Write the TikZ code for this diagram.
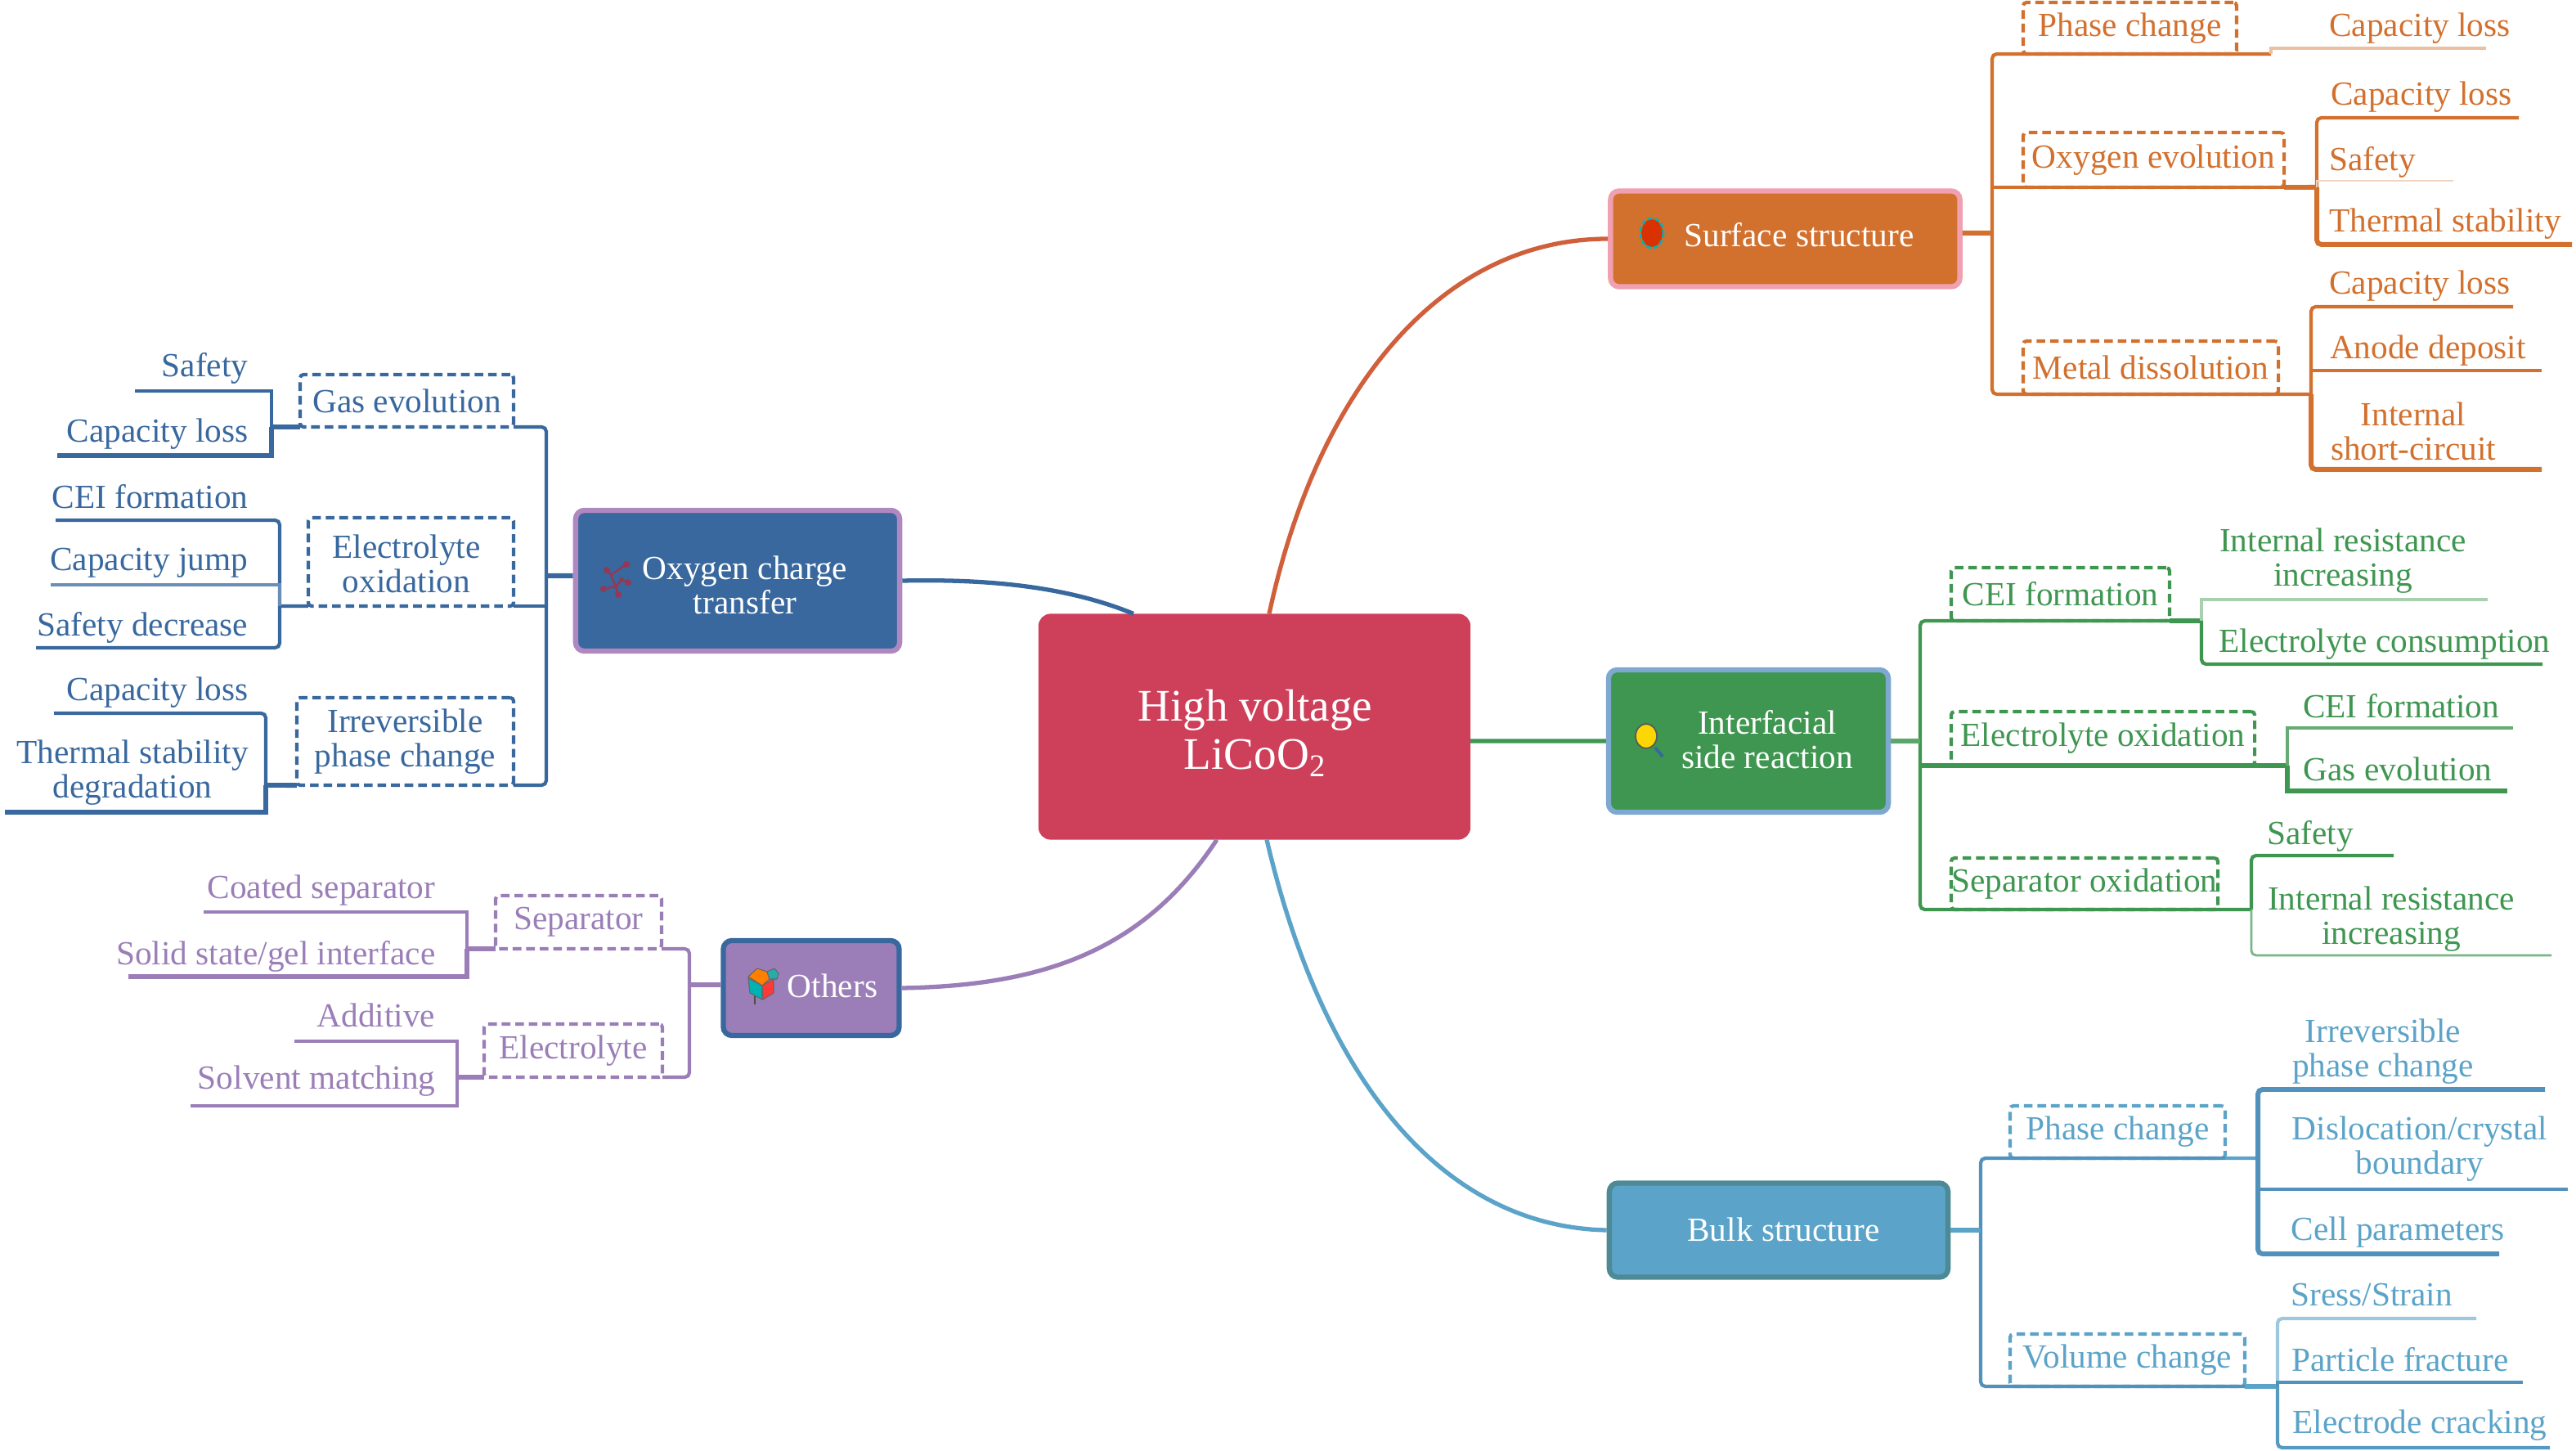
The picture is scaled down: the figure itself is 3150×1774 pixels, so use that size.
\documentclass[tikz,border=0pt]{standalone}
\usepackage{fontspec}
\setmainfont{Liberation Serif}
\definecolor{ca}{HTML}{D2702E}
\definecolor{cb}{HTML}{38689E}
\definecolor{cc}{HTML}{9B7EB8}
\definecolor{cd}{HTML}{3E9650}
\definecolor{ce}{HTML}{5BA3C8}
\definecolor{rootc}{HTML}{CE3F5A}
\definecolor{surfb}{HTML}{F0A0B0}
\definecolor{interb}{HTML}{7FA8D0}
\definecolor{bulkb}{HTML}{4D8A96}
\definecolor{oxyb}{HTML}{B088C0}
\definecolor{cr}{HTML}{D0603C}
\tikzset{
  txt/.style={font=\fontsize{11.75}{12}\selectfont,inner sep=0pt,align=center},
  leaf/.style={txt,text=#1},
  dbox/.style={txt,text=#1,draw=#1,outer sep=0pt,dash pattern=on 3pt off 1.7pt,line width=1.2pt,rounded corners=1.2pt},
  main/.style={draw=#1,line width=1.8pt,rounded corners=3pt,inner sep=0pt},
  wt/.style={txt,text=white},
  hw/.style={line width=1.7pt},
  md/.style={line width=1.2pt},
  tn/.style={line width=.8pt},
  rc/.style={rounded corners=1.6pt},
  conn/.style={line width=1.5pt},
}
\newcommand{\bx}[7]{\node[dbox=#1,minimum width=#5cm,minimum height=#6cm] (#2) at (#3,#4) {#7};}
\begin{document}
\begin{tikzpicture}[x=0.01cm,y=-0.01cm]
\useasboundingbox (0,0) rectangle (3150,1774);
% main boxes
\node[main=rootc,line width=.6pt,fill=rootc,minimum width=5.26cm,minimum height=2.74cm,rounded corners=4pt] (root) at (1534,888.5) {};
\node[wt,font=\fontsize{15.7}{17}\selectfont] (rootT) at (1535,896) {High voltage\\LiCoO\textsubscript{2}};
\node[main=surfb,fill=ca,minimum width=4.27cm,minimum height=1.17cm] (surf) at (2183,292) {};
\node[wt] (surfT) at (2200,287) {Surface structure};
\node[main=interb,fill=cd,minimum width=3.42cm,minimum height=1.74cm] (inter) at (2138,906) {};
\node[wt] (interT) at (2161,904) {Interfacial\\side reaction};
\node[main=bulkb,fill=ce,minimum width=4.14cm,minimum height=1.15cm] (bulk) at (2175,1504) {};
\node[wt] (bulkT) at (2181,1503) {Bulk structure};
\node[main=oxyb,fill=cb,minimum width=3.96cm,minimum height=1.72cm] (oxy) at (902,710) {};
\node[wt] (oxyT) at (911,715) {Oxygen charge\\transfer};
\node[main=cb,fill=cc,minimum width=2.15cm,minimum height=1.16cm] (oth) at (992,1208) {};
\node[wt] (othT) at (1018,1205) {Others};
% root connectors
\draw[conn,cr] ([xshift=0.18cm]root.north) .. controls (1610,480) and (1760,292) .. (surf.west);
\draw[conn,cd] ([yshift=-0.175cm]root.east) -- (inter.west);
\draw[conn,ce] ([xshift=0.15cm]root.south) .. controls (1620,1330) and (1770,1500) .. (bulk.west);
\draw[conn,cb] ([xshift=-1.48cm]root.north) .. controls (1300,715) and (1200,708) .. (oxy.east);
\draw[conn,cc] ([xshift=-0.46cm]root.south) .. controls (1400,1160) and (1280,1205) .. (oth.east);
% ---- Surface
\bx{ca}{spc}{2604.5}{34.5}{2.61}{.63}{Phase change}
\bx{ca}{soe}{2633.5}{195.5}{3.19}{.67}{Oxygen evolution}
\bx{ca}{smd}{2630}{449.5}{3.12}{.65}{Metal dissolution}
\coordinate (sV) at (2436,285);
\draw[md,ca,rc] (spc.south east) -| (sV) |- (smd.south east);
\draw[hw,ca] ([yshift=.07cm]surf.east) -- (sV);
\draw[md,ca] (sV |- soe.south) -- (soe.south east);
\coordinate (spcJ) at (2777,66); \coordinate (spcA) at (3040,59);
\draw[md,ca] (spc.south east) -- (spcJ);
\draw[md,ca!45] (spcJ) |- (spcA);
\node[leaf=ca] (l1) at (2959,35) {Capacity loss};
\coordinate (soeJ) at (2833,229); \coordinate (soeA) at (3080,144); \coordinate (soeB) at (3000,221); \coordinate (soeC) at (3145,299);
\draw[hw,ca] (soe.south east) -- (soeJ);
\draw[md,ca,rc] (soeJ) |- (soeA);
\draw[tn,ca!30] (soeJ) |- (soeB);
\draw[hw,ca,rc] (soeJ) |- (soeC);
\node[leaf=ca] (l2) at (2961,119) {Capacity loss};
\node[leaf=ca] (l3) at (2901,198) {Safety};
\node[leaf=ca] (l4) at (2990,274) {Thermal stability};
\coordinate (smdJ) at (2826,482); \coordinate (smdA) at (3073,375); \coordinate (smdB) at (3108,453); \coordinate (smdC) at (3108,574);
\draw[md,ca] (smd.south east) -- (smdJ);
\draw[md,ca,rc] (smdJ) |- (smdA);
\draw[md,ca] (smdJ) |- (smdB);
\draw[hw,ca,rc] (smdJ) |- (smdC);
\node[leaf=ca] (l5) at (2959,350) {Capacity loss};
\node[leaf=ca] (l6) at (2969,429) {Anode deposit};
\node[leaf=ca] (l7) at (2951,527) {Internal\\short-circuit};
% ---- Interfacial
\bx{cd}{icf}{2519.5}{726.5}{2.67}{.65}{CEI formation}
\bx{cd}{ieo}{2571.5}{903}{3.71}{.66}{Electrolyte oxidation}
\bx{cd}{iso}{2549}{1080.5}{3.26}{.63}{Separator oxidation}
\coordinate (iV) at (2348,906);
\draw[md,cd,rc] (icf.south east) -| (iV) |- (iso.south east);
\draw[hw,cd!85] (inter.east) -- (iV);
\draw[hw,cd] (iV |- ieo.south) -- (ieo.south east);
\coordinate (icfJ) at (2692,759); \coordinate (icfA) at (3042,733); \coordinate (icfB) at (3109,812);
\draw[hw,cd] (icf.south east) -- (icfJ);
\draw[md,cd!45] (icfJ) |- (icfA);
\draw[md,cd,rc] (icfJ) |- (icfB);
\node[leaf=cd] (l8) at (2865,686) {Internal resistance\\increasing};
\node[leaf=cd] (l9) at (2916,788) {Electrolyte consumption};
\coordinate (ieoJ) at (2797,936); \coordinate (ieoA) at (3073,890); \coordinate (ieoB) at (3066,967);
\draw[hw,cd] (ieo.south east) -- (ieoJ);
\draw[md,cd!80] (ieoJ) |- (ieoA);
\draw[hw,cd] (ieoJ) |- (ieoB);
\node[leaf=cd] (l10) at (2936,863) {CEI formation};
\node[leaf=cd] (l11) at (2932,940) {Gas evolution};
\coordinate (isoJ) at (2753,1112); \coordinate (isoA) at (2927,1046); \coordinate (isoB) at (3120,1168);
\draw[md,cd] (iso.south east) -- (isoJ);
\draw[md,cd,rc] (isoJ) |- (isoA);
\draw[tn,cd!70,rc] (isoJ) |- (isoB);
\node[leaf=cd] (l12) at (2825,1022) {Safety};
\node[leaf=cd] (l13) at (2924,1124) {Internal resistance\\increasing};
% ---- Bulk
\bx{ce}{bpc}{2589.5}{1384}{2.63}{.64}{Phase change}
\bx{ce}{bvc}{2601.5}{1663}{2.87}{.64}{Volume change}
\coordinate (bV) at (2422,1504);
\draw[md,ce!70!cb,rc] (bpc.south east) -| (bV) |- (bvc.south east);
\draw[hw,ce] (bulk.east) -- (bV);
\coordinate (bpcJ) at (2761,1416); \coordinate (bpcA) at (3112,1332); \coordinate (bpcB) at (3140,1454); \coordinate (bpcC) at (3056,1533);
\draw[md,ce] (bpc.south east) -- (bpcJ);
\draw[hw,ce!70!cb,rc] (bpcJ) |- (bpcA);
\draw[md,ce!70!cb] (bpcJ) |- (bpcB);
\draw[hw,ce!70!cb,rc] (bpcJ) |- (bpcC);
\node[leaf=ce] (l14) at (2914,1286) {Irreversible\\phase change};
\node[leaf=ce] (l15) at (2959,1405) {Dislocation/crystal\\boundary};
\node[leaf=ce] (l16) at (2932,1507) {Cell parameters};
\coordinate (bvcJ) at (2785,1695); \coordinate (bvcA) at (3028,1612); \coordinate (bvcB) at (3085,1690); \coordinate (bvcC) at (3118,1770);
\draw[hw,ce] (bvc.south east) -- (bvcJ);
\draw[md,ce!60,rc] (bvcJ) |- (bvcA);
\draw[md,ce!70!cb] (bvcJ) |- (bvcB);
\draw[md,ce!85!cb,rc] (bvcJ) |- (bvcC);
\node[leaf=ce] (l17) at (2900,1583) {Sress/Strain};
\node[leaf=ce] (l18) at (2935,1662) {Particle fracture};
\node[leaf=ce] (l19) at (2959,1743) {Electrode cracking};
% ---- Oxygen charge transfer
\bx{cb}{oge}{497.5}{490}{2.61}{.64}{Gas evolution}
\bx{cb}{oeo}{502.5}{687}{2.51}{1.08}{}
\node[leaf=cb] (oeoT) at (497,689) {Electrolyte\\oxidation};
\bx{cb}{oip}{495.5}{906.5}{2.65}{1.07}{Irreversible\\phase change}
\coordinate (oV) at (668,704);
\draw[md,cb,rc] (oge.south east) -| (oV) |- (oip.south east);
\draw[hw,cb] ([yshift=.06cm]oxy.west) -- (oV);
\draw[md,cb] (oV |- oeo.south) -- (oeo.south east);
\coordinate (ogeJ) at (332,522); \coordinate (ogeA) at (165,478); \coordinate (ogeB) at (70,557);
\draw[hw,cb] (oge.south west) -- (ogeJ);
\draw[md,cb] (ogeJ) |- (ogeA);
\draw[hw,cb] (ogeJ) |- (ogeB);
\node[leaf=cb,anchor=east] (l20) at (304,450) {Safety};
\node[leaf=cb,anchor=east] (l21) at (304,531) {Capacity loss};
\coordinate (oeoJ) at (342,741); \coordinate (oeoA) at (68,636); \coordinate (oeoB) at (62,715); \coordinate (oeoC) at (44,792);
\draw[md,cb] (oeo.south west) -- (oeoJ);
\draw[md,cb,rc] (oeoJ) |- (oeoA);
\draw[md,cb!75] (oeoJ) |- (oeoB);
\draw[md,cb,rc] (oeoJ) |- (oeoC);
\node[leaf=cb,anchor=east] (l22) at (304,607) {CEI formation};
\node[leaf=cb,anchor=east] (l23) at (304,688) {Capacity jump};
\node[leaf=cb,anchor=east] (l24) at (304,767) {Safety decrease};
\coordinate (oipJ) at (325,960); \coordinate (oipA) at (66,872); \coordinate (oipB) at (6,993);
\draw[hw,cb] (oip.south west) -- (oipJ);
\draw[md,cb,rc] (oipJ) |- (oipA);
\draw[hw,cb] (oipJ) |- (oipB);
\node[leaf=cb,anchor=east] (l25) at (304,847) {Capacity loss};
\node[leaf=cb] (l26) at (162,945) {Thermal stability\\degradation};
% ---- Others
\bx{cc}{tse}{707.5}{1127.5}{2.03}{.65}{Separator}
\bx{cc}{tel}{701}{1284.5}{2.18}{.65}{Electrolyte}
\coordinate (tV) at (843,1204);
\draw[md,cc,rc] (tse.south east) -| (tV) |- (tel.south east);
\draw[hw,cc] ([yshift=.04cm]oth.west) -- (tV);
\coordinate (tseJ) at (571,1160); \coordinate (tseA) at (249,1115); \coordinate (tseB) at (157,1194);
\draw[hw,cc] (tse.south west) -- (tseJ);
\draw[md,cc] (tseJ) |- (tseA);
\draw[hw,cc] (tseJ) |- (tseB);
\node[leaf=cc,anchor=east] (l27) at (533,1089) {Coated separator};
\node[leaf=cc,anchor=east] (l28) at (533,1169) {Solid state/gel interface};
\coordinate (telJ) at (559,1317); \coordinate (telA) at (360,1273); \coordinate (telB) at (233,1352);
\draw[hw,cc] (tel.south west) -- (telJ);
\draw[md,cc] (telJ) |- (telA);
\draw[md,cc] (telJ) |- (telB);
\node[leaf=cc,anchor=east] (l29) at (533,1241) {Additive};
\node[leaf=cc,anchor=east] (l30) at (533,1322) {Solvent matching};
% ---- icons
\fill[red!55!orange!85!black] (2020,285) circle [x radius=13,y radius=17];
\draw[teal!60!cyan,line width=.8pt,dash pattern=on 1.6pt off .9pt] (2020,285) circle [x radius=14,y radius=18];
\fill[yellow!75!orange,draw=black!65,line width=.5pt] (2013,900) circle [x radius=13,y radius=15];
\draw[cb,line width=1.1pt] (2024,914) -- (2033,925);
\begin{scope}[red!45!cb]
\draw[line width=.7pt] (742,697) -- (747,703) -- (753,717) -- (738,720);
\draw[line width=.7pt] (747,703) -- (766,690);
\draw[line width=.7pt] (753,717) -- (760,709) -- (768,712);
\draw[line width=.7pt] (753,717) -- (756,727);
\fill (742,697) circle (4); \fill (766,690) circle (4); \fill (760,709) circle (3);
\fill (768,712) circle (4); \fill (738,720) circle (4); \fill (753,717) circle (3); \fill (756,727) circle (4);
\end{scope}
\draw[black!70,line width=.7pt] (923,1205) -- (923,1228);
\fill[teal!60!cyan,draw=black!60,line width=.3pt] (915,1196) -- (932,1205) -- (932,1222) -- (917,1214) -- cycle;
\fill[orange,draw=black!60,line width=.3pt] (915,1194) -- (926,1184) -- (938,1188) -- (941,1197) -- (932,1205) -- cycle;
\fill[red!70!pink,draw=black!60,line width=.3pt] (932,1205) -- (946,1197) -- (946,1214) -- (933,1222) -- cycle;
\fill[teal!50!cyan!70!gray,draw=black!60,line width=.3pt] (941,1197) -- (938,1188) -- (947,1184) -- (952,1190) -- (950,1197) -- cycle;
\end{tikzpicture}
\end{document}
